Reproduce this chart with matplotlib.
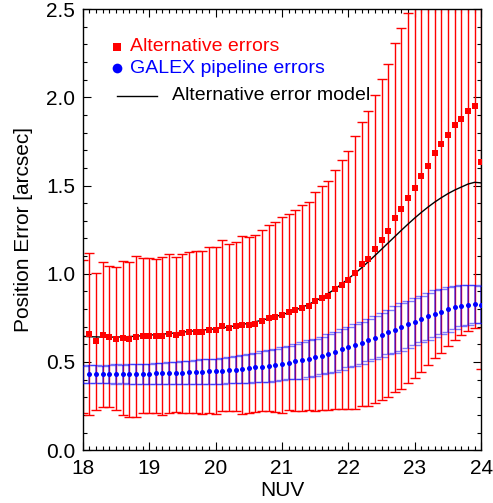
import matplotlib
matplotlib.use('Agg')
import matplotlib.pyplot as plt
from matplotlib.ticker import MultipleLocator, FormatStrFormatter

plt.rcParams['font.family'] = ['Liberation Sans', 'DejaVu Sans']

# NUV magnitude bins
nuv = [18.0, 18.1, 18.2, 18.3, 18.4, 18.5, 18.6, 18.7, 18.8, 18.9,
       19.0, 19.1, 19.2, 19.3, 19.4, 19.5, 19.6, 19.7, 19.8, 19.9,
       20.0, 20.1, 20.2, 20.3, 20.4, 20.5, 20.6, 20.7, 20.8, 20.9,
       21.0, 21.1, 21.2, 21.3, 21.4, 21.5, 21.6, 21.7, 21.8, 21.9,
       22.0, 22.1, 22.2, 22.3, 22.4, 22.5, 22.6, 22.7, 22.8, 22.9,
       23.0, 23.1, 23.2, 23.3, 23.4, 23.5, 23.6, 23.7, 23.8, 23.9,
       24.0]

# Alternative errors (red squares) and their symmetric error bars
alt = [0.642, 0.660, 0.617, 0.655, 0.643, 0.632, 0.638, 0.628, 0.643, 0.649,
       0.649, 0.649, 0.649, 0.660, 0.655, 0.662, 0.668, 0.668, 0.668, 0.683,
       0.679, 0.706, 0.694, 0.702, 0.711, 0.711, 0.717, 0.734, 0.747, 0.757,
       0.768, 0.781, 0.792, 0.807, 0.819, 0.843, 0.864, 0.875, 0.911, 0.938,
       0.966, 1.006, 1.053, 1.085, 1.141, 1.192, 1.243, 1.317, 1.368, 1.430,
       1.487, 1.555, 1.611, 1.685, 1.736, 1.787, 1.843, 1.877, 1.922, 1.951,
       1.636]
alt_err = [0.433, 0.458, 0.389, 0.412, 0.399, 0.406, 0.436, 0.440, 0.456, 0.441,
           0.440, 0.437, 0.447, 0.449, 0.439, 0.449, 0.456, 0.459, 0.461, 0.470,
           0.473, 0.486, 0.472, 0.479, 0.504, 0.500, 0.503, 0.514, 0.527, 0.539,
           0.555, 0.556, 0.569, 0.584, 0.590, 0.620, 0.634, 0.650, 0.679, 0.704,
           0.730, 0.772, 0.805, 0.837, 0.873, 0.909, 0.944, 0.990, 1.024, 1.050,
           1.078, 1.112, 1.130, 1.160, 1.183, 1.197, 1.219, 1.226, 1.249, 1.257,
           1.178]

# GALEX pipeline errors (blue circles) and their error bars
galex = [0.428, 0.430, 0.429, 0.430, 0.430, 0.431, 0.431, 0.432, 0.432, 0.433,
         0.434, 0.435, 0.436, 0.437, 0.438, 0.440, 0.441, 0.443, 0.444, 0.446,
         0.447, 0.451, 0.453, 0.457, 0.460, 0.464, 0.470, 0.474, 0.477, 0.483,
         0.491, 0.496, 0.504, 0.509, 0.517, 0.526, 0.536, 0.547, 0.556, 0.571,
         0.585, 0.596, 0.609, 0.624, 0.638, 0.653, 0.668, 0.683, 0.698, 0.713,
         0.728, 0.743, 0.758, 0.774, 0.785, 0.798, 0.809, 0.819, 0.825, 0.830,
         0.825]
galex_err = [0.050, 0.052, 0.051, 0.049, 0.052, 0.056, 0.053, 0.055, 0.057, 0.056,
             0.057, 0.058, 0.060, 0.064, 0.062, 0.066, 0.065, 0.068, 0.070, 0.071,
             0.071, 0.074, 0.075, 0.077, 0.079, 0.081, 0.083, 0.086, 0.089, 0.092,
             0.093, 0.095, 0.099, 0.104, 0.105, 0.106, 0.107, 0.109, 0.111, 0.114,
             0.115, 0.117, 0.118, 0.120, 0.122, 0.125, 0.125, 0.135, 0.134, 0.133,
             0.132, 0.132, 0.132, 0.131, 0.129, 0.126, 0.120, 0.116, 0.113, 0.108,
             0.103]

# Alternative error model (black curve)
model = [0.645, 0.643, 0.642, 0.641, 0.641, 0.641, 0.642, 0.644, 0.646, 0.649,
         0.652, 0.655, 0.658, 0.661, 0.665, 0.669, 0.673, 0.677, 0.681, 0.684,
         0.688, 0.693, 0.699, 0.705, 0.712, 0.720, 0.728, 0.737, 0.747, 0.757,
         0.768, 0.780, 0.794, 0.809, 0.826, 0.845, 0.866, 0.889, 0.914, 0.942,
         0.972, 1.002, 1.034, 1.068, 1.103, 1.139, 1.175, 1.211, 1.247, 1.282,
         1.316, 1.348, 1.378, 1.406, 1.431, 1.454, 1.474, 1.491, 1.508, 1.518,
         1.515]

labels = ['Alternative errors', 'GALEX pipeline errors', 'Alternative error model']

fig = plt.figure(figsize=(4.93, 5.03), dpi=100)
ax = fig.add_axes([0.168, 0.105, 0.808, 0.877])

ax.errorbar(nuv, alt, yerr=alt_err, fmt='none', ecolor='red', elinewidth=1.0,
            capsize=3.8, capthick=1.0, zorder=2)
ax.errorbar(nuv, galex, yerr=galex_err, fmt='none', ecolor='blue', elinewidth=1.4,
            capsize=4.4, capthick=1.0, alpha=0.5, zorder=3)
ax.plot(nuv, model, color='black', lw=1.0, zorder=4)
ax.plot(nuv[1:], alt[1:], 's', color='red', ms=3.8, mew=0, zorder=5)
ax.plot(nuv[1:], galex[1:], 'o', color='blue', ms=3.6, mew=0, zorder=5)

# legend (IDL style)
ax.plot([0.086], [0.914], 's', color='red', ms=5.5, mew=0, transform=ax.transAxes)
ax.text(0.119, 0.914, labels[0], color='red', fontsize=14, va='center', ha='left',
        transform=ax.transAxes)
ax.plot([0.086], [0.866], 'o', color='blue', ms=7, mew=0, transform=ax.transAxes)
ax.text(0.119, 0.866, labels[1], color='blue', fontsize=14, va='center', ha='left',
        transform=ax.transAxes)
ax.plot([0.086, 0.187], [0.803, 0.803], color='black', lw=1.0, transform=ax.transAxes)
ax.text(0.224, 0.803, labels[2], color='black', fontsize=14, va='center', ha='left',
        transform=ax.transAxes)

ax.set_xlim(18, 24)
ax.set_ylim(0, 2.5)
ax.xaxis.set_major_locator(MultipleLocator(1))
ax.xaxis.set_minor_locator(MultipleLocator(0.1))
ax.yaxis.set_major_locator(MultipleLocator(0.5))
ax.yaxis.set_minor_locator(MultipleLocator(0.1))
ax.yaxis.set_major_formatter(FormatStrFormatter('%.1f'))
ax.tick_params(which='both', direction='in', top=True, right=True, width=0.8,
               labelsize=15)
ax.tick_params(which='major', length=5.8)
ax.tick_params(which='minor', length=2.9)
ax.tick_params(axis='x', which='major', pad=6)
ax.tick_params(axis='y', which='major', pad=5.5)
for s in ax.spines.values():
    s.set_linewidth(1.0)

ax.set_xlabel('NUV', fontsize=15, labelpad=2.5)
ax.set_ylabel('Position Error [arcsec]', fontsize=15, labelpad=9)

fig.savefig('out.png', dpi=100)
